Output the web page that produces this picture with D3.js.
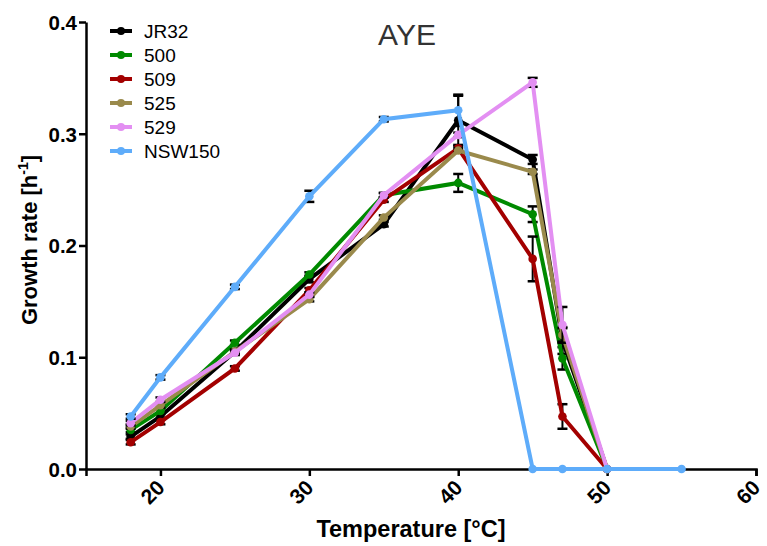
<!DOCTYPE html>
<html>
<head>
<meta charset="utf-8">
<script src="https://cdn.jsdelivr.net/npm/d3@7"></script>
<style>
  body { margin: 0; background: #fff; }
  text { font-family: "Liberation Sans", Arial, sans-serif; }
</style>
</head>
<body>
<svg id="chart" width="767" height="546"></svg>
<script>
const temps = [18, 20, 25, 30, 35, 40, 45, 47, 50];
const tempsNSW = [18, 20, 25, 30, 35, 40, 45, 47, 50, 55];

const jr32 = [0.029, 0.047, 0.105, 0.170, 0.219, 0.312, 0.277, 0.115, 0];
const s500 = [0.035, 0.052, 0.113, 0.174, 0.245, 0.256, 0.228, 0.099, 0];
const s509 = [0.024, 0.042, 0.090, 0.160, 0.241, 0.287, 0.188, 0.047, 0];
const s525 = [0.038, 0.057, 0.105, 0.152, 0.225, 0.285, 0.266, 0.120, 0];
const s529 = [0.041, 0.062, 0.104, 0.156, 0.245, 0.299, 0.346, 0.129, 0];
const nsw150 = [0.047, 0.082, 0.163, 0.244, 0.313, 0.321, 0, 0, 0, 0];

const errJr32 = [0.002, 0.002, 0.002, 0.003, 0.002, 0.022, 0.004, 0.012, 0];
const err500 = [0.002, 0.002, 0.002, 0.002, 0.002, 0.008, 0.007, 0.010, 0];
const err509 = [0.002, 0.002, 0.002, 0.002, 0.002, 0.002, 0.020, 0.011, 0];
const err525 = [0.002, 0.002, 0.002, 0.002, 0.002, 0.002, 0.002, 0.006, 0];
const err529 = [0.002, 0.002, 0.002, 0.002, 0.002, 0.002, 0.004, 0.016, 0];
const errNsw150 = [0.002, 0.002, 0.002, 0.005, 0.002, 0.014, 0, 0, 0, 0];

const names = ['JR32', '500', '509', '525', '529', 'NSW150'];
const colors = ['#000000', '#008a00', '#a30000', '#9a8a4c', '#e38ff2', '#5eacfa'];

const xTicks = [20, 30, 40, 50, 60];
const yTicks = [0.0, 0.1, 0.2, 0.3, 0.4];

const series = [
    { name: names[0], x: temps, y: jr32, err: errJr32 },
    { name: names[1], x: temps, y: s500, err: err500 },
    { name: names[2], x: temps, y: s509, err: err509 },
    { name: names[3], x: temps, y: s525, err: err525 },
    { name: names[4], x: temps, y: s529, err: err529 },
    { name: names[5], x: tempsNSW, y: nsw150, err: errNsw150 },
];

const svg = d3.select('#chart');
const plotLeft = 86, plotRight = 756, plotTop = 22, plotBottom = 469;

const x = d3.scaleLinear().domain([15, 60]).range([plotLeft, plotRight]);
const y = d3.scaleLinear().domain([0, 0.4]).range([plotBottom, plotTop]);
const color = d3.scaleOrdinal().domain(names).range(colors);

// axes
const xAxis = svg.append('g')
    .attr('transform', `translate(0,${plotBottom})`)
    .call(d3.axisBottom(x).tickValues(xTicks).tickSize(7).tickSizeOuter(7).tickFormat(d3.format('d')));
xAxis.selectAll('text')
    .attr('font-size', 21)
    .attr('font-weight', 'bold')
    .attr('fill', '#000')
    .attr('text-anchor', 'end')
    .attr('y', 0)
    .attr('dy', 0)
    .attr('transform', 'translate(5,20) rotate(-45)');

const yAxis = svg.append('g')
    .attr('transform', `translate(${plotLeft},0)`)
    .call(d3.axisLeft(y).tickValues(yTicks).tickSize(7).tickSizeOuter(0).tickFormat(d3.format('.1f')));
yAxis.selectAll('text')
    .attr('font-size', 20.5)
    .attr('font-weight', 'bold')
    .attr('fill', '#000')
    .attr('x', -9)
    .attr('dy', '0.36em');

svg.selectAll('.domain, .tick line')
    .attr('stroke', '#000')
    .attr('stroke-width', 2.5);

// lines, points, error bars
const line = d3.line()
    .x((d) => x(d[0]))
    .y((d) => y(d[1]));

series.forEach((s) => {
    const pts = s.x.map((t, i) => [t, s.y[i], s.err[i]]);
    const g = svg.append('g');

    g.selectAll('g.err')
        .data(pts.filter((d) => d[2] > 0))
        .join('g')
        .attr('class', 'err')
        .each(function (d) {
            const e = d3.select(this);
            const cx = x(d[0]);
            e.append('line')
                .attr('x1', cx).attr('x2', cx)
                .attr('y1', y(d[1] - d[2])).attr('y2', y(d[1] + d[2]))
                .attr('stroke', '#000').attr('stroke-width', 2);
            [d[1] - d[2], d[1] + d[2]].forEach((v) => {
                e.append('line')
                    .attr('x1', cx - 5).attr('x2', cx + 5)
                    .attr('y1', y(v)).attr('y2', y(v))
                    .attr('stroke', '#000').attr('stroke-width', 2.5);
            });
        });

    g.append('path')
        .datum(pts)
        .attr('d', line)
        .attr('fill', 'none')
        .attr('stroke', color(s.name))
        .attr('stroke-width', 4);

    g.selectAll('circle')
        .data(pts)
        .join('circle')
        .attr('cx', (d) => x(d[0]))
        .attr('cy', (d) => y(d[1]))
        .attr('r', 4.3)
        .attr('fill', color(s.name));
});

// title
svg.append('text')
    .attr('x', 407)
    .attr('y', 45)
    .attr('text-anchor', 'middle')
    .attr('font-size', 30)
    .attr('fill', '#333')
    .text('AYE');

// axis labels
svg.append('text')
    .attr('x', 411)
    .attr('y', 537)
    .attr('text-anchor', 'middle')
    .attr('font-size', 23.5)
    .attr('font-weight', 'bold')
    .text('Temperature [°C]');

const yl = svg.append('text')
    .attr('transform', 'translate(37,240) rotate(-90)')
    .attr('text-anchor', 'middle')
    .attr('font-size', 22)
    .attr('font-weight', 'bold');
yl.append('tspan').text('Growth rate [h');
yl.append('tspan').attr('font-size', 14).attr('dy', -9).text('-1');
yl.append('tspan').attr('dy', 9).text(']');

// legend
const legend = svg.append('g').attr('transform', 'translate(110,31)');
const items = legend.selectAll('g')
    .data(names)
    .join('g')
    .attr('transform', (d, i) => `translate(0,${i * 24})`);
items.append('line')
    .attr('x1', 0).attr('x2', 22)
    .attr('stroke', (d) => color(d))
    .attr('stroke-width', 4);
items.append('circle')
    .attr('cx', 11).attr('r', 4)
    .attr('fill', (d) => color(d));
items.append('text')
    .attr('x', 34)
    .attr('dy', '0.36em')
    .attr('font-size', 19)
    .text((d) => d);
</script>
</body>
</html>
